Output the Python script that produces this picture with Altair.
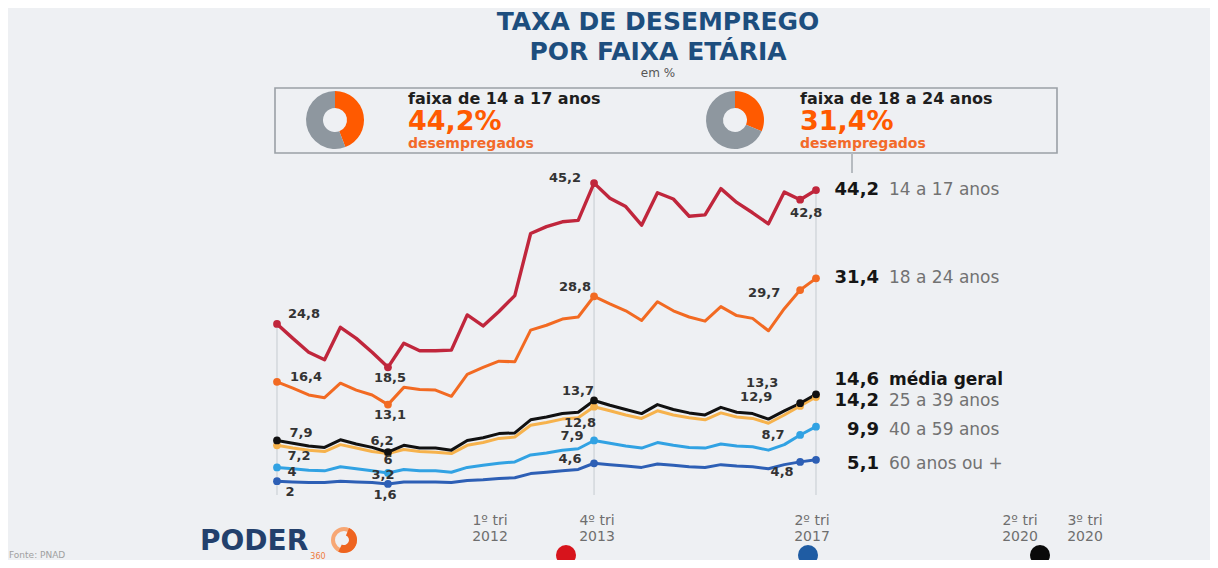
import altair as alt
import pandas as pd

# ---------------- data ----------------
quarters = [f"{q}º tri {y}" for y in range(2012, 2021) for q in range(1, 5)][:35]

s14_17 = [24.8, 22.7, 20.7, 19.6, 24.3, 22.7, 20.7, 18.5, 22.0, 20.9, 20.9, 21.0,
          26.1, 24.5, 26.6, 28.9, 37.9, 38.9, 39.6, 39.8, 45.2, 43.0, 41.8, 39.1,
          43.8, 42.9, 40.4, 40.6, 44.4, 42.4, 40.9, 39.3, 43.9, 42.8, 44.2]
s18_24 = [16.4, 15.5, 14.5, 14.1, 16.2, 15.2, 14.5, 13.1, 15.6, 15.3, 15.2, 14.3,
          17.5, 18.5, 19.4, 19.3, 23.9, 24.6, 25.5, 25.8, 28.8, 27.7, 26.7, 25.3,
          28.0, 26.7, 25.8, 25.2, 27.3, 26.0, 25.6, 23.8, 27.0, 29.7, 31.4]
media = [7.9, 7.5, 7.1, 6.9, 8.0, 7.4, 6.9, 6.2, 7.2, 6.8, 6.8, 6.5,
         7.9, 8.3, 8.9, 9.0, 10.9, 11.3, 11.8, 12.0, 13.7, 13.0, 12.4, 11.8,
         13.1, 12.4, 11.9, 11.6, 12.7, 12.0, 11.8, 11.0, 12.2, 13.3, 14.6]
s25_39 = [7.2, 6.8, 6.5, 6.3, 7.3, 6.8, 6.3, 6.0, 6.6, 6.3, 6.2, 6.0,
          7.2, 7.6, 8.2, 8.4, 10.1, 10.5, 11.0, 11.2, 12.8, 12.2, 11.6, 11.1,
          12.2, 11.6, 11.2, 10.9, 11.9, 11.3, 11.1, 10.4, 11.6, 12.9, 14.2]
s40_59 = [4.0, 3.8, 3.6, 3.5, 4.1, 3.8, 3.5, 3.2, 3.7, 3.5, 3.5, 3.3,
          4.0, 4.3, 4.6, 4.8, 5.8, 6.1, 6.5, 6.7, 7.9, 7.5, 7.1, 6.8,
          7.6, 7.2, 6.9, 6.8, 7.4, 7.1, 7.0, 6.5, 7.3, 8.7, 9.9]
s60 = [2.0, 1.9, 1.8, 1.8, 2.0, 1.9, 1.8, 1.6, 1.9, 1.9, 1.9, 1.8,
       2.1, 2.2, 2.4, 2.5, 3.1, 3.3, 3.5, 3.7, 4.6, 4.4, 4.2, 4.0,
       4.5, 4.3, 4.1, 4.0, 4.4, 4.2, 4.1, 3.8, 4.4, 4.8, 5.1]

series_names = ["60 anos ou +", "40 a 59 anos", "25 a 39 anos",
                "média geral", "18 a 24 anos", "14 a 17 anos"]
series_values = [s60, s40_59, s25_39, media, s18_24, s14_17]

highlight_idx = [0, 7, 20, 33, 34]
labeled_idx = [0, 7, 20, 33]
rule_idx = [0, 20, 34]

donut_titles = ["faixa de 14 a 17 anos", "faixa de 18 a 24 anos"]
donut_values = [44.2, 31.4]

tick_line1 = ["1º tri", "4º tri", "2º tri", "2º tri", "3º tri"]
tick_line2 = ["2012", "2013", "2017", "2020", "2020"]

title_lines = ["TAXA DE DESEMPREGO", "POR FAIXA ETÁRIA"]
subtitle = "em %"
source = "Fonte: PNAD"

# ---------------- layout / style ----------------
W, H = 1202, 552
BG = "#eef0f3"
FONT = "DejaVu Sans"
X_DOMAIN = [-16.968, 58.854]
Y_DOMAIN = [-9.42, 70.58]

series_colors = ["#2d5fb5", "#31a2e3", "#f6b24c", "#111111", "#f26a22", "#c0263c"]
line_widths = [3, 3, 3, 3, 3, 3.4]
label_offsets = [
    [(13, 11), (-3, 11), (-24, -4), (-18, 10)],     # 60+
    [(15, 5), (-5, 2), (-22, -4), (-27, 0)],        # 40-59
    [(22, 11), (0, 6), (-14, 16), (-44, -9)],       # 25-39
    [(24, -7), (-6, -11), (-16, -9), (-38, -20)],   # media
    [(29, -5), (2, 10), (-19, -9), (-36, 3)],       # 18-24
    [(27, -10), (2, 11), (-29, -5), (6, 13)],       # 14-17
]
end_dy = [4, 3, 4, -14, 0, 0]
name_bold = [False, False, False, True, False, False]
tick_x = [490, 597, 812, 1020, 1085]
donut_cx = [335, 735]
donut_text_x = [408, 800]
ORANGE = "#ff5a00"
GRAY_D = "#8e979f"


def px(x):
    return x - 8


def py(y):
    return y - 8


one = pd.DataFrame({"k": [0]})


def txt(text, x, y, size, color, weight="normal", align="left", baseline="alphabetic", lh=None):
    kw = dict(text=text, align=align, baseline=baseline, fontSize=size,
              fontWeight=weight, color=color, font=FONT)
    if lh is not None:
        kw["lineHeight"] = lh
    return alt.Chart(one).mark_text(**kw).encode(x=alt.value(px(x)), y=alt.value(py(y)))


X = alt.X("idx:Q", scale=alt.Scale(domain=X_DOMAIN, nice=False, zero=False), axis=None)
Y = alt.Y("v:Q", scale=alt.Scale(domain=Y_DOMAIN, nice=False, zero=False), axis=None)


def fmt(v):
    return f"{v:g}".replace(".", ",")


layers = []

# vertical guide rules
rule_df = pd.DataFrame({"idx": rule_idx, "v": [s14_17[i] for i in rule_idx], "v0": [0] * len(rule_idx)})
layers.append(alt.Chart(rule_df).mark_rule(color="#cdd1d6", strokeWidth=1.2).encode(
    x=X, y=Y, y2=alt.Y2("v0:Q")))

frames = []
for name, vals in zip(series_names, series_values):
    frames.append(pd.DataFrame({"idx": list(range(len(vals))), "v": vals,
                                "quarter": quarters, "serie": name,
                                "t": [fmt(v) for v in vals]}))

# lines
for df, col, lw in zip(frames, series_colors, line_widths):
    layers.append(alt.Chart(df).mark_line(color=col, strokeWidth=lw, strokeJoin="round",
                                          strokeCap="round").encode(x=X, y=Y))

# markers
for df, col in zip(frames, series_colors):
    layers.append(alt.Chart(df.iloc[highlight_idx]).mark_circle(
        color=col, size=60, opacity=1).encode(x=X, y=Y))

# point labels
for df, offs in zip(frames, label_offsets):
    for i, (dx, dy) in zip(labeled_idx, offs):
        layers.append(alt.Chart(df.iloc[[i]]).mark_text(
            dx=dx, dy=dy, align="center", baseline="middle", fontSize=13,
            fontWeight="bold", color="#333333", font=FONT
        ).encode(x=X, y=Y, text="t:N"))

# end labels
for df, name, dy, bold in zip(frames, series_names, end_dy, name_bold):
    last = df.iloc[[len(df) - 1]]
    layers.append(alt.Chart(last).mark_text(
        dy=dy, align="right", baseline="middle", fontSize=18, fontWeight="bold",
        color="#151515", font=FONT).encode(x=alt.value(px(879)), y=Y, text="t:N"))
    layers.append(alt.Chart(last).mark_text(
        dy=dy, align="left", baseline="middle", fontSize=17,
        fontWeight="bold" if bold else "normal",
        color="#151515" if bold else "#727272", font=FONT
    ).encode(x=alt.value(px(889)), y=Y, text="serie:N"))

# title
layers.append(txt(title_lines[0], 658, 30, 25, "#1d4e7e", "bold", "center"))
layers.append(txt(title_lines[1], 658, 60, 25, "#1d4e7e", "bold", "center"))
layers.append(txt(subtitle, 658, 77, 12, "#555555", "normal", "center"))

# box
layers.append(alt.Chart(one).mark_rect(fill=BG, stroke="#9aa0a6", strokeWidth=1.6).encode(
    x=alt.value(px(275)), x2=alt.value(px(1057)), y=alt.value(py(88)), y2=alt.value(py(153))))
layers.append(alt.Chart(one).mark_rule(color="#b6bbc0", strokeWidth=2).encode(
    x=alt.value(px(852)), y=alt.value(py(153)), y2=alt.value(py(173))))

# donuts
for title, val, cx, tx in zip(donut_titles, donut_values, donut_cx, donut_text_x):
    ddf = pd.DataFrame({"part": ["desempregados", "outros"], "val": [val, 100 - val], "o": [0, 1]})
    layers.append(alt.Chart(ddf).mark_arc(radius=29, radius2=12).encode(
        theta=alt.Theta("val:Q", stack=True),
        color=alt.Color("part:N", scale=alt.Scale(domain=["desempregados", "outros"],
                                                  range=[ORANGE, GRAY_D]), legend=None),
        order=alt.Order("o:Q"),
        x=alt.value(px(cx)), y=alt.value(py(120))))
    layers.append(txt(title, tx, 104, 16, "#1e1e1e", "bold"))
    layers.append(txt(fmt(val) + "%", tx, 130, 27, ORANGE, "bold"))
    layers.append(txt("desempregados", tx, 148, 14, "#f36a2a", "bold"))

# bottom tick labels (two-line texts)
for l1, l2, x in zip(tick_line1, tick_line2, tick_x):
    layers.append(txt([l1, l2], x, 525, 14, "#6e6e6e", "normal", "center", lh=16))

# bottom dots
for col, x in zip(["#d7141c", "#1f5ca3", "#0a0a0a"], [566, 808, 1040]):
    layers.append(alt.Chart(one).mark_circle(color=col, size=400, opacity=1).encode(
        x=alt.value(px(x)), y=alt.value(py(555))))

# source + logo
layers.append(txt(source, 9, 558, 9, "#a0a0a0"))
layers.append(txt("PODER", 200, 550, 28, "#23406c", "bold"))
layers.append(alt.Chart(one).mark_arc(radius=13, radius2=9, theta=0, theta2=6.2832,
                                      color="#f7a774").encode(
    x=alt.value(px(344)), y=alt.value(py(540))))
layers.append(alt.Chart(one).mark_arc(radius=13, radius2=5, theta=0.4, theta2=3.6,
                                      color="#ee6420").encode(
    x=alt.value(px(344)), y=alt.value(py(540))))
layers.append(txt("360", 318, 559, 8, "#ee7a3a", "normal", "center"))

chart = alt.layer(*layers).properties(
    width=W, height=H, padding=0, background=BG,
    autosize=alt.AutoSizeParams(type="none")
).configure_view(stroke=None)

chart.save("out.html", embed_options={"renderer": "svg", "actions": False})
